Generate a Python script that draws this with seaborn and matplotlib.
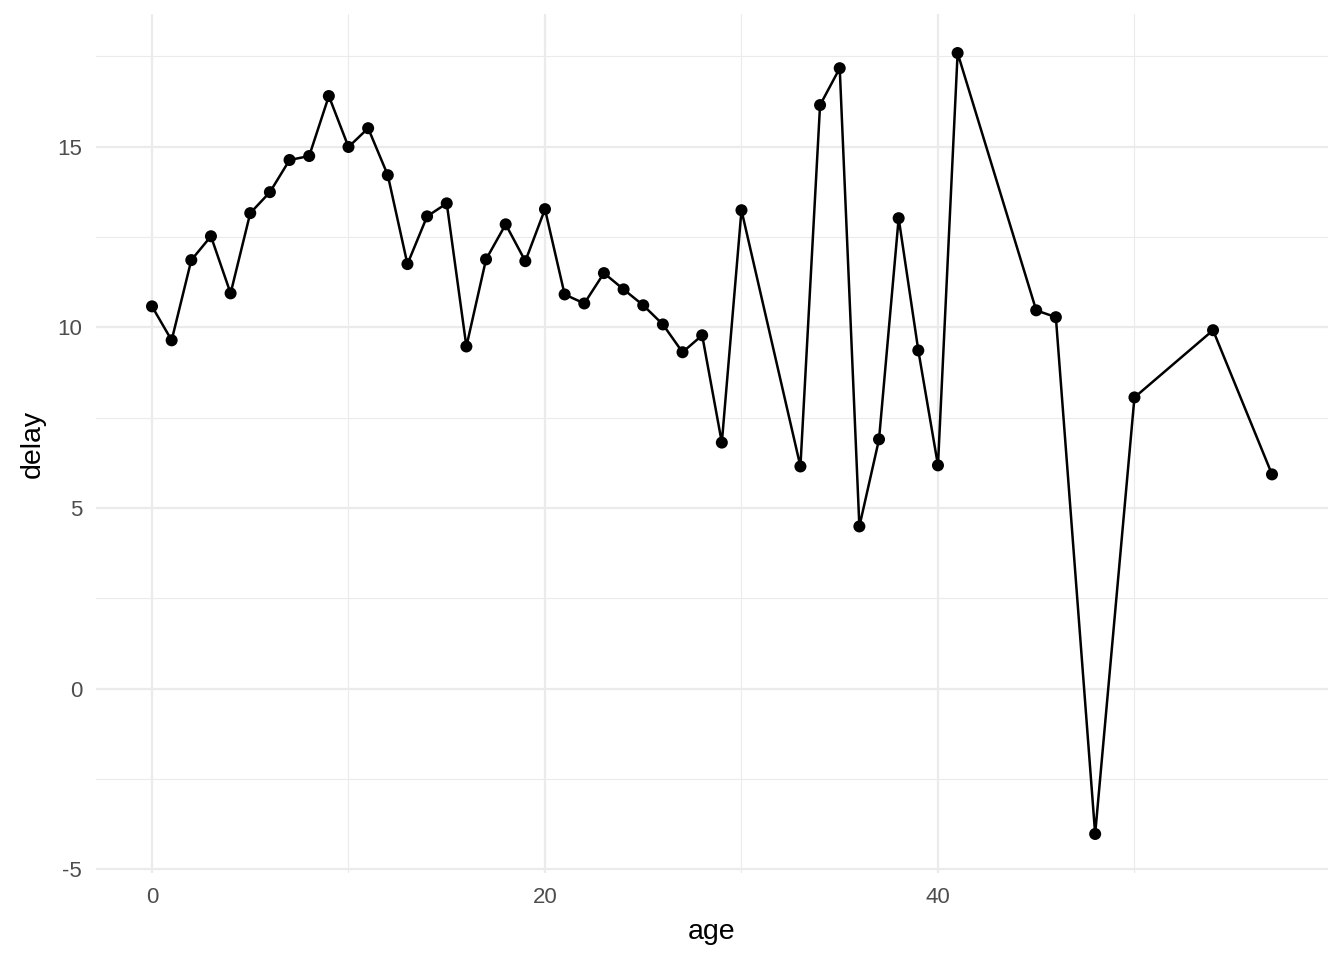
import matplotlib
matplotlib.use("Agg")
import matplotlib.pyplot as plt
import seaborn as sns
import pandas as pd
from matplotlib.ticker import MultipleLocator

age = [0, 1, 2, 3, 4, 5, 6, 7, 8, 9, 10, 11, 12, 13, 14, 15, 16, 17, 18, 19, 20,
       21, 22, 23, 24, 25, 26, 27, 28, 29, 30, 33, 34, 35, 36, 37, 38, 39, 40, 41,
       45, 46, 48, 50, 54, 57]
delay = [10.58, 9.64, 11.86, 12.52, 10.94, 13.16, 13.74, 14.63, 14.74, 16.40, 14.99,
         15.51, 14.21, 11.75, 13.07, 13.43, 9.47, 11.88, 12.85, 11.83, 13.27,
         10.91, 10.66, 11.50, 11.05, 10.61, 10.08, 9.31, 9.78, 6.81, 13.24,
         6.15, 16.15, 17.17, 4.49, 6.90, 13.02, 9.36, 6.18, 17.59,
         10.47, 10.28, -4.02, 8.06, 9.92, 5.93]

df = pd.DataFrame({"age": age, "delay": delay})

sns.set_theme(style="white")
plt.rcParams['font.family'] = ['Liberation Sans', 'DejaVu Sans']
plt.rcParams['axes.unicode_minus'] = False

fig = plt.figure(figsize=(13.44, 9.6), dpi=100)
ax = fig.add_axes([96/1344, 1 - 873/960, (1328-96)/1344, (873-14)/960])

sns.lineplot(data=df, x="age", y="delay", color="black", linewidth=1.8, ax=ax, zorder=3)
sns.scatterplot(data=df, x="age", y="delay", color="black", s=75, edgecolor="none", ax=ax, zorder=4)

ax.set_xlim(-2.85, 59.85)
ax.set_ylim(-5.1, 18.67)
ax.xaxis.set_major_locator(MultipleLocator(20))
ax.xaxis.set_minor_locator(MultipleLocator(10))
ax.yaxis.set_major_locator(MultipleLocator(5))
ax.yaxis.set_minor_locator(MultipleLocator(2.5))
ax.grid(which="major", color="#EBEBEB", linewidth=1.6)
ax.grid(which="minor", color="#EBEBEB", linewidth=0.8)
ax.set_axisbelow(True)
for s in ax.spines.values():
    s.set_visible(False)
ax.tick_params(which="both", length=0, labelsize=16, labelcolor="#4D4D4D", pad=10)
ax.set_xlabel("age", fontsize=20.5, color="black", labelpad=8)
ax.set_ylabel("delay", fontsize=20.5, color="black", labelpad=8)

fig.savefig("out.png", dpi=100)
